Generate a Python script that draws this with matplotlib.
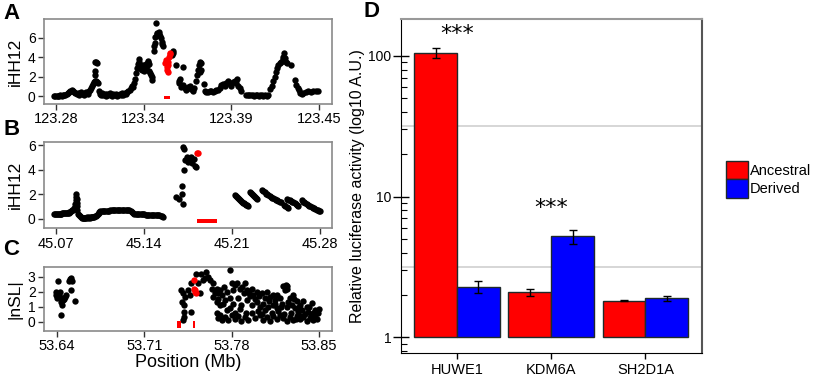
import matplotlib
matplotlib.use('Agg')
import matplotlib.pyplot as plt
from matplotlib.patches import Patch
from matplotlib.ticker import LogLocator, NullFormatter

plt.rcParams['font.family'] = ['Liberation Sans', 'DejaVu Sans']

# ---- panel A: iHH12 around 123.3 Mb ----
a_black = [
    (123.2790, 0.05), (123.2798, 0.0), (123.2806, 0.05), (123.2814, 0.0), (123.2822, 0.05),
    (123.2830, 0.1), (123.2838, 0.05), (123.2846, 0.1), (123.2854, 0.15), (123.2862, 0.1),
    (123.2870, 0.25), (123.2878, 0.3), (123.2886, 0.45), (123.2894, 0.55), (123.2902, 0.6),
    (123.2910, 0.5), (123.2918, 0.4), (123.2926, 0.3), (123.2934, 0.2), (123.2942, 0.35),
    (123.2950, 0.15), (123.2958, 0.3), (123.2966, 0.45), (123.2974, 0.2), (123.2982, 0.1),
    (123.2990, 0.3), (123.2998, 0.4), (123.3006, 0.2), (123.3014, 0.5), (123.3022, 0.6),
    (123.3030, 0.8), (123.3036, 1.0), (123.3042, 1.2), (123.3048, 1.4), (123.3052, 1.6),
    (123.3054, 2.2), (123.3056, 2.6), (123.3055, 3.5), (123.3060, 3.5), (123.3064, 3.4),
    (123.3062, 1.5), (123.3068, 1.4), (123.3073, 1.3), (123.3078, 0.5),
    (123.3084, 0.2), (123.3092, 0.1), (123.3100, 0.3), (123.3108, 0.1), (123.3116, 0.2),
    (123.3124, 0.0), (123.3132, 0.2), (123.3140, 0.1), (123.3148, 0.3), (123.3156, 0.1),
    (123.3164, 0.0), (123.3172, 0.2), (123.3180, 0.1), (123.3188, 0.25), (123.3196, 0.05),
    (123.3204, 0.1), (123.3212, 0.2), (123.3220, 0.1), (123.3228, 0.3), (123.3236, 0.15),
    (123.3244, 0.3), (123.3252, 0.2), (123.3260, 0.4), (123.3268, 0.5), (123.3276, 0.6),
    (123.3284, 0.8), (123.3290, 1.0),
    (123.3298, 0.9), (123.3305, 1.3), (123.3312, 1.8), (123.3318, 2.4), (123.3324, 2.9),
    (123.3330, 3.3), (123.3336, 3.8), (123.3340, 3.5), (123.3344, 3.1), (123.3348, 2.8),
    (123.3352, 3.0), (123.3356, 2.7), (123.3360, 3.2), (123.3364, 2.9), (123.3368, 2.6),
    (123.3374, 3.0), (123.3380, 3.3), (123.3386, 3.1), (123.3392, 3.5), (123.3396, 3.6),
    (123.3400, 3.3), (123.3404, 2.6), (123.3408, 2.4), (123.3412, 2.2), (123.3418, 2.0),
    (123.3424, 1.7),
    (123.3434, 4.6), (123.3436, 5.2), (123.3438, 5.5), (123.3442, 6.1), (123.3447, 7.5),
    (123.3450, 6.4), (123.3455, 6.5), (123.3460, 6.3), (123.3464, 6.4), (123.3469, 6.6),
    (123.3474, 6.2), (123.3480, 6.0), (123.3484, 5.6), (123.3488, 5.4), (123.3490, 5.2),
    (123.3551, 4.2), (123.3555, 4.66), (123.3559, 4.45), (123.3577, 3.2), (123.3620, 3.0),
    (123.3594, 1.6), (123.3603, 1.8), (123.3598, 1.3), (123.3609, 0.96), (123.3620, 1.13),
    (123.3631, 0.8), (123.3641, 0.6), (123.3652, 0.9), (123.3663, 1.0), (123.3674, 0.7),
    (123.3685, 0.55), (123.3695, 0.8),
    (123.3706, 1.5), (123.3713, 2.15), (123.3717, 2.7), (123.3723, 3.2), (123.3732, 3.5),
    (123.3738, 3.36), (123.3734, 2.67), (123.3728, 2.5), (123.3754, 1.23),
    (123.3760, 0.5), (123.3771, 0.4), (123.3782, 0.45), (123.3792, 0.55), (123.3803, 0.5),
    (123.3814, 0.45), (123.3825, 0.55), (123.3836, 0.65), (123.3846, 0.6), (123.3857, 0.8),
    (123.3868, 1.1), (123.3879, 1.2), (123.3890, 1.0), (123.3900, 1.3), (123.3911, 1.5),
    (123.3922, 1.2), (123.3933, 1.0), (123.3943, 1.4), (123.3954, 1.6), (123.3965, 1.3),
    (123.3969, 1.8), (123.3976, 1.0), (123.3987, 0.8), (123.3995, 0.5),
    (123.4030, 0.15), (123.4040, 0.1), (123.4050, 0.12), (123.4060, 0.08), (123.4070, 0.1),
    (123.4080, 0.05), (123.4090, 0.1), (123.4100, 0.08), (123.4110, 0.05), (123.4120, 0.1),
    (123.4130, 0.08), (123.4140, 0.05), (123.4150, 0.1), (123.4160, 0.05), (123.4170, 0.1),
    (123.4185, 0.7), (123.4192, 1.0), (123.4202, 1.5), (123.4213, 2.0), (123.4220, 2.5),
    (123.4228, 2.85), (123.4235, 3.2), (123.4246, 3.4), (123.4256, 3.5), (123.4263, 3.77),
    (123.4267, 4.0), (123.4271, 4.4), (123.4278, 3.9), (123.4284, 3.5), (123.4293, 3.4),
    (123.4317, 3.2), (123.4343, 1.64), (123.4353, 1.13), (123.4364, 0.8), (123.4371, 0.6),
    (123.4379, 0.27), (123.4386, 0.17), (123.4397, 0.34), (123.4414, 0.4), (123.4429, 0.48),
    (123.4444, 0.45), (123.4461, 0.5), (123.4478, 0.48), (123.4494, 0.5),
]
a_red = [
    (123.3508, 3.36), (123.3512, 3.7), (123.3516, 2.67), (123.3518, 3.0), (123.3523, 2.5),
    (123.3523, 3.18), (123.3527, 3.5), (123.3529, 4.04), (123.3534, 4.3), (123.3538, 4.45),
]
a_gene = (123.3497, 123.3538)
a_ticks = [123.28, 123.3367, 123.3933, 123.45]
a_ticklabels = ['123.28', '123.34', '123.39', '123.45']

# ---- panel B: iHH12 around 45.2 Mb ----
b_black = [
    (45.0690, 0.35), (45.0697, 0.36), (45.0704, 0.35), (45.0711, 0.38), (45.0718, 0.37),
    (45.0725, 0.4), (45.0732, 0.4), (45.0739, 0.42), (45.0746, 0.4), (45.0753, 0.43),
    (45.0760, 0.45), (45.0767, 0.44), (45.0774, 0.46), (45.0781, 0.47), (45.0788, 0.48),
    (45.0795, 0.5), (45.0802, 0.5), (45.0809, 0.52), (45.0816, 0.55), (45.0823, 0.6),
    (45.0830, 0.7), (45.0838, 0.75), (45.0846, 0.9), (45.0852, 1.2), (45.0858, 1.5),
    (45.0862, 1.8), (45.0865, 2.0), (45.0868, 1.6), (45.0870, 1.3), (45.0872, 1.0),
    (45.0868, 0.7),
    (45.0880, 0.4), (45.0887, 0.3), (45.0894, 0.2), (45.0901, 0.15), (45.0908, 0.1),
    (45.0915, 0.08), (45.0922, 0.1), (45.0929, 0.08), (45.0936, 0.1), (45.0943, 0.1),
    (45.0950, 0.12), (45.0957, 0.1), (45.0964, 0.12), (45.0971, 0.1), (45.0978, 0.12),
    (45.0985, 0.15), (45.0992, 0.12), (45.0999, 0.15), (45.1006, 0.18), (45.1013, 0.2),
    (45.1020, 0.25), (45.1027, 0.3), (45.1034, 0.4), (45.1041, 0.5), (45.1048, 0.58),
    (45.1055, 0.62), (45.1065, 0.63), (45.1075, 0.64), (45.1085, 0.65), (45.1095, 0.65),
    (45.1105, 0.66), (45.1115, 0.67), (45.1125, 0.67), (45.1135, 0.68), (45.1145, 0.68),
    (45.1155, 0.69), (45.1165, 0.7), (45.1175, 0.7), (45.1185, 0.7), (45.1195, 0.69),
    (45.1205, 0.7), (45.1215, 0.71), (45.1225, 0.72), (45.1235, 0.7), (45.1245, 0.71),
    (45.1255, 0.7), (45.1265, 0.72), (45.1275, 0.7), (45.1285, 0.68), (45.1295, 0.65),
    (45.1305, 0.55),
    (45.1315, 0.45), (45.1325, 0.42), (45.1335, 0.42), (45.1345, 0.4), (45.1355, 0.4),
    (45.1365, 0.38), (45.1375, 0.38), (45.1385, 0.36), (45.1395, 0.35), (45.1405, 0.35),
    (45.1415, 0.34), (45.1425, 0.33), (45.1435, 0.33), (45.1445, 0.32), (45.1455, 0.32),
    (45.1465, 0.3), (45.1475, 0.3), (45.1485, 0.3), (45.1495, 0.28), (45.1505, 0.28),
    (45.1515, 0.27), (45.1525, 0.27), (45.1535, 0.25), (45.1545, 0.22), (45.1550, 0.15),
    (45.1657, 1.74), (45.1684, 1.58), (45.1705, 2.66), (45.1705, 2.0), (45.1715, 1.17),
    (45.1718, 4.0), (45.1710, 5.87), (45.1723, 5.65), (45.1731, 4.78), (45.1745, 5.0),
    (45.1750, 4.65), (45.1758, 4.9), (45.1769, 4.78), (45.1777, 5.0), (45.1785, 4.5),
    (45.1798, 4.84), (45.1811, 4.3), (45.1816, 4.24),
    (45.2122, 1.9), (45.2130, 1.85), (45.2138, 1.75), (45.2146, 1.7), (45.2154, 1.6),
    (45.2162, 1.55), (45.2170, 1.45), (45.2178, 1.4), (45.2186, 1.3), (45.2194, 1.25),
    (45.2202, 1.2), (45.2210, 1.15), (45.2218, 1.1), (45.2226, 1.05),
    (45.2242, 2.2), (45.2250, 2.1), (45.2258, 2.0), (45.2266, 1.95), (45.2274, 1.85),
    (45.2282, 1.75), (45.2290, 1.7), (45.2298, 1.6),
    (45.2340, 2.35), (45.2350, 2.25), (45.2360, 2.15), (45.2370, 2.05), (45.2380, 2.0),
    (45.2390, 1.9), (45.2400, 1.85), (45.2410, 1.75), (45.2420, 1.7), (45.2430, 1.65),
    (45.2440, 1.6), (45.2450, 1.55), (45.2460, 1.5), (45.2470, 1.45), (45.2480, 1.4),
    (45.2490, 1.4),
    (45.2515, 1.1), (45.2525, 1.0), (45.2535, 0.95), (45.2545, 0.9),
    (45.2540, 1.6), (45.2550, 1.55), (45.2560, 1.5), (45.2570, 1.45), (45.2580, 1.4),
    (45.2590, 1.35), (45.2600, 1.3), (45.2610, 1.2), (45.2620, 1.1), (45.2630, 1.05),
    (45.2654, 1.5), (45.2664, 1.4), (45.2674, 1.35), (45.2684, 1.25), (45.2694, 1.2),
    (45.2704, 1.1), (45.2714, 1.05), (45.2724, 1.0), (45.2734, 0.95), (45.2744, 0.9),
    (45.2754, 0.85), (45.2764, 0.8), (45.2774, 0.75), (45.2784, 0.7), (45.2794, 0.65),
    (45.2800, 0.6),
]
b_red = [(45.1830, 5.38), (45.1827, 5.35)]
b_gene = (45.1822, 45.1981)
b_ticks = [45.07, 45.14, 45.21, 45.28]
b_ticklabels = ['45.07', '45.14', '45.21', '45.28']

# ---- panel C: |nSL| around 53.75 Mb ----
c_black = [
    (53.6408, 2.69), (53.6395, 1.98), (53.6389, 1.76), (53.6408, 1.76), (53.6400, 1.58),
    (53.6421, 1.64), (53.6435, 1.31), (53.6448, 1.42), (53.6462, 1.64), (53.6475, 1.76),
    (53.6443, 1.13), (53.6435, 0.42), (53.6502, 2.87), (53.6515, 2.91), (53.6523, 2.69),
    (53.6496, 2.69), (53.6515, 2.09), (53.6542, 1.36), (53.6421, 2.0), (53.6455, 1.5),
    (53.7398, 2.1), (53.7411, 1.9), (53.7425, 1.67), (53.7405, 1.33), (53.7415, 1.1),
    (53.7420, 0.67), (53.7415, 0.3), (53.7411, 0.1), (53.7478, 0.67), (53.7451, 2.1),
    (53.7465, 1.78), (53.7478, 2.55), (53.7518, 3.2), (53.7532, 2.55), (53.7545, 1.9),
    (53.7572, 2.8),
    (53.7558, 3.2), (53.7598, 3.3), (53.7625, 2.8), (53.7652, 2.55), (53.7679, 2.2),
    (53.7692, 1.9), (53.7706, 2.1), (53.7719, 1.8), (53.7738, 2.3), (53.7759, 2.0),
    (53.7786, 3.45), (53.7799, 2.55), (53.7813, 2.1), (53.7826, 2.45), (53.7845, 2.6),
    (53.7866, 2.15), (53.7887, 2.3), (53.7906, 2.6), (53.7925, 2.1), (53.7941, 1.9),
    (53.7960, 2.15), (53.7973, 1.8), (53.8000, 1.95), (53.8021, 1.7), (53.8040, 1.9),
    (53.8067, 1.6), (53.8080, 1.95), (53.8107, 1.67), (53.8128, 1.8), (53.8147, 1.45),
    (53.8166, 1.8), (53.8187, 1.55), (53.8214, 2.35), (53.8235, 2.45), (53.8246, 2.15),
    (53.8227, 2.1), (53.8267, 1.6), (53.8289, 1.8), (53.8321, 1.35), (53.8348, 1.1),
    (53.8374, 1.35), (53.8401, 1.0), (53.8441, 1.25), (53.8468, 0.8), (53.8503, 0.82),
    (53.7652, 1.67), (53.7679, 1.33), (53.7706, 1.1), (53.7746, 1.45), (53.7786, 1.55),
    (53.7813, 1.2), (53.7853, 1.55), (53.7879, 1.1), (53.7920, 1.45), (53.7960, 1.1),
    (53.8000, 1.33), (53.8027, 1.0), (53.8053, 1.2), (53.8093, 1.0), (53.8134, 1.1),
    (53.8160, 0.9), (53.8200, 1.2), (53.8241, 1.0), (53.8281, 1.1), (53.8307, 0.9),
    (53.8334, 0.67), (53.8361, 0.78), (53.8414, 0.67), (53.8455, 0.55),
    (53.7679, 0.55), (53.7692, 0.22), (53.7706, 0.45), (53.7719, 0.1), (53.7746, 0.33),
    (53.7772, 0.1), (53.7799, 0.45), (53.7826, 0.15), (53.7853, 0.4), (53.7879, 0.07),
    (53.7906, 0.3), (53.7933, 0.1), (53.7960, 0.55), (53.7986, 0.22), (53.8027, 0.45),
    (53.8053, 0.1), (53.8080, 0.33), (53.8107, 0.07), (53.8134, 0.4), (53.8160, 0.15),
    (53.8187, 0.45), (53.8214, 0.22), (53.8241, 0.07), (53.8267, 0.33), (53.8294, 0.1),
    (53.8321, 0.4), (53.8348, 0.15), (53.8374, 0.33), (53.8401, 0.07), (53.8428, 0.22),
    (53.8455, 0.1), (53.8481, 0.15),
    (53.7585, 2.9), (53.7612, 3.0), (53.7640, 2.2), (53.7665, 1.9), (53.7690, 1.5),
    (53.7730, 1.2), (53.7760, 0.8), (53.7790, 0.9), (53.7830, 0.6), (53.7870, 0.85),
    (53.7900, 1.9), (53.7915, 0.6), (53.7950, 1.7), (53.7990, 1.5), (53.8010, 0.7),
    (53.8045, 0.5), (53.8070, 0.8), (53.8100, 1.35), (53.8120, 0.6), (53.8150, 1.2),
    (53.8175, 0.7), (53.8195, 1.0), (53.8220, 0.5), (53.8255, 1.3), (53.8275, 0.6),
    (53.8300, 1.5), (53.8315, 0.2), (53.8340, 1.0), (53.8355, 0.4), (53.8390, 0.5),
    (53.8420, 1.0), (53.8435, 0.4), (53.8470, 0.3), (53.8490, 0.6), (53.8230, 2.3),
    (53.8240, 2.4),
]
c_red = [(53.7497, 2.78), (53.7505, 2.1), (53.7513, 1.9), (53.7500, 2.2), (53.7508, 2.0)]
c_genes = [(53.7364, 53.7397), (53.7493, 53.7504)]
c_ticks = [53.64, 53.71, 53.78, 53.85]
c_ticklabels = ['53.64', '53.71', '53.78', '53.85']

# ---- panel D: luciferase assay ----
genes = ['HUWE1', 'KDM6A', 'SH2D1A']
ancestral = [105, 2.10, 1.82]
ancestral_err = [9, 0.12, 0.02]
derived = [2.28, 5.22, 1.89]
derived_err = [0.22, 0.6, 0.08]
star_y = [143, 8.25]
star_labels = ['***', '***']

fig = plt.figure(figsize=(8.13, 3.77), dpi=100)
ax_a = fig.add_axes([0.0541, 0.7241, 0.3542, 0.2255])
ax_b = fig.add_axes([0.0541, 0.3944, 0.3542, 0.2297])
ax_c = fig.add_axes([0.0541, 0.1228, 0.3542, 0.1698])
ax_d = fig.add_axes([0.4932, 0.0637, 0.3702, 0.8860])

panels = [
    (ax_a, a_black, a_red, [a_gene], a_ticks, a_ticklabels, [0, 2, 4, 6], (123.2724, 123.4582), (-0.82, 7.93), 'iHH12', -0.42),
    (ax_b, b_black, b_red, [b_gene], b_ticks, b_ticklabels, [0, 2, 4, 6], (45.0607, 45.2896), (-0.78, 6.27), 'iHH12', -0.43),
    (ax_c, c_black, c_red, c_genes, c_ticks, c_ticklabels, [0, 1, 2, 3], (53.6296, 53.8604), (-0.6, 3.67), '|nSL|', -0.5),
]
for ax, black, red, gene_spans, xt, xtl, yt, xl, yl, ylab, gy in panels:
    ax.scatter([p[0] for p in black], [p[1] for p in black], s=21, c='black', linewidths=0, zorder=3)
    ax.scatter([p[0] for p in red], [p[1] for p in red], s=21, c='red', linewidths=0, zorder=4)
    for g0, g1 in gene_spans:
        h = 0.36 if ylab == 'iHH12' else 0.45
        ax.broken_barh([(g0, g1 - g0)], (gy + 0.08, h), facecolors='red', zorder=4)
    ax.set_xlim(*xl)
    ax.set_ylim(*yl)
    ax.set_xticks(xt)
    ax.set_xticklabels(xtl)
    ax.set_yticks(yt)
    for sp in ax.spines.values():
        sp.set_color('#8a8a8a')
        sp.set_linewidth(1.2)
    ax.tick_params(axis='both', direction='out', length=4, width=1, color='#333333', pad=2)
    ax.tick_params(axis='x', labelsize=10.5)
    ax.tick_params(axis='y', labelsize=10)
    ax.set_ylabel(ylab, fontsize=12.5)
    ax.yaxis.set_label_coords(-0.075, 0.5)

ax_c.set_xlabel('Position (Mb)', fontsize=13)
ax_c.xaxis.set_label_coords(0.5, -0.37)

# panel D bars
w = 0.455
pos = [1, 2, 3]
ax_d.bar([p - w / 2 for p in pos], [v - 1 for v in ancestral], w, bottom=1,
         color='#ff0000', edgecolor='#1f2a2a', linewidth=1, zorder=2)
ax_d.bar([p + w / 2 for p in pos], [v - 1 for v in derived], w, bottom=1,
         color='#0000ff', edgecolor='#1f2a2a', linewidth=1, zorder=2)
ax_d.errorbar([p - w / 2 for p in pos], ancestral, yerr=ancestral_err, fmt='none',
              ecolor='black', elinewidth=1, capsize=3, capthick=1, zorder=3)
ax_d.errorbar([p + w / 2 for p in pos], derived, yerr=derived_err, fmt='none',
              ecolor='black', elinewidth=1, capsize=3, capthick=1, zorder=3)
for p, y, s in zip(pos, star_y, star_labels):
    ax_d.text(p, y, s, ha='center', va='center', fontsize=16, family='DejaVu Sans')

ax_d.set_yscale('log')
ax_d.set_ylim(0.773, 183)
ax_d.set_xlim(0.406, 3.6)
for gy in (10 ** 0.5, 10 ** 1.5):
    ax_d.axhline(gy, color='#cfcfcf', linewidth=1.2, zorder=0)
ax_d.set_yticks([1, 10, 100])
ax_d.set_yticklabels(['1', '10', '100'])
ax_d.yaxis.set_minor_locator(LogLocator(base=10, subs=[2, 3, 4, 5, 6, 7, 8, 9], numticks=20))
ax_d.yaxis.set_minor_formatter(NullFormatter())
ax_d.set_xticks(pos)
ax_d.set_xticklabels(genes)
ax_d.tick_params(axis='y', which='major', direction='inout', length=12, width=1, labelsize=10, pad=1)
ax_d.tick_params(axis='y', which='minor', direction='in', length=4, width=0.8)
ax_d.tick_params(axis='x', direction='out', length=4, width=1, labelsize=10.5, pad=3)
ax_d.spines['top'].set_color('#999999')
ax_d.spines['right'].set_color('#555555')
ax_d.spines['top'].set_linewidth(1.5)
ax_d.spines['right'].set_linewidth(1.5)
ax_d.set_ylabel('Relative luciferase activity (log10 A.U.)', fontsize=11.5)
ax_d.yaxis.set_label_coords(-0.12, 0.5)

handles = [Patch(facecolor='#ff0000', edgecolor='#1f2a2a'),
           Patch(facecolor='#0000ff', edgecolor='#1f2a2a')]
fig.legend(handles, ['Ancestral', 'Derived'], loc='upper left', bbox_to_anchor=(0.893, 0.573),
           frameon=False, fontsize=10.5, handlelength=1.5, handleheight=1.55,
           handletextpad=0.12, labelspacing=0.0, borderpad=0, borderaxespad=0)

# panel letters
for lx, ly, letter in [(0.004, 0.992, 'A'), (0.004, 0.684, 'B'), (0.004, 0.366, 'C'), (0.447, 0.997, 'D')]:
    fig.text(lx, ly, letter, fontsize=16, fontweight='bold', va='top', ha='left')

fig.savefig('out.png', dpi=100)
